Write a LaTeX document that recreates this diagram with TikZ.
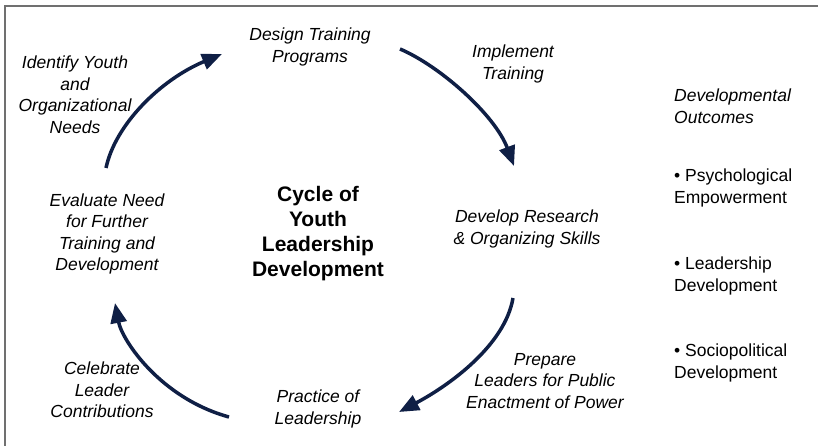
\documentclass[tikz,border=0pt]{standalone}
\usepackage{fontspec}
\setmainfont{Liberation Sans}
\usetikzlibrary{arrows.meta}
\definecolor{navy}{HTML}{0F1F45}
\definecolor{framegray}{HTML}{707070}
\begin{document}
\begin{tikzpicture}[x=1pt,y=-1pt,
  lbl/.style={font=\fontsize{17.5}{21.5}\selectfont\itshape, align=center, inner sep=0pt},
  outc/.style={font=\fontsize{17.5}{21.5}\selectfont, align=left, anchor=west, inner sep=0pt},
  ttl/.style={font=\fontsize{21}{25}\selectfont\bfseries, align=center, inner sep=0pt},
  cyc/.style={draw=navy, line width=3.5pt, -{Triangle[length=20pt,width=16pt]}},
  framel/.style={draw=framegray, line width=2pt}]
\useasboundingbox (0,0) rectangle (818,446);
\draw[framel] (4.5,446) -- (4.5,6.5) -- (818,6.5);

\node[lbl] (identify) at (75,95) {Identify Youth\\and\\Organizational\\Needs};
\node[lbl] (design) at (310,47) {Design Training\\Programs};
\node[lbl] (implement) at (513,64) {Implement\\Training};
\node[lbl] (develop) at (527,229) {Develop Research\\\& Organizing Skills};
\node[lbl] (prepare) at (545,381) {Prepare\\Leaders for Public\\Enactment of Power};
\node[lbl] (practice) at (318,409) {Practice of\\Leadership};
\node[lbl] (celebrate) at (102,390) {Celebrate\\Leader\\Contributions};
\node[lbl] (evaluate) at (107,234) {Evaluate Need\\for Further\\Training and\\Development};
\node[ttl] (title) at (318,234) {Cycle of\\Youth\\Leadership\\Development};

\node[outc, font=\fontsize{17.5}{21.5}\selectfont\itshape] (outcomes) at (674,106) {Developmental\\Outcomes};
\node[outc] (psych) at (674,188) {• Psychological\\Empowerment};
\node[outc] (lead) at (674,276) {• Leadership\\Development};
\node[outc] (socio) at (674,363) {• Sociopolitical\\Development};

\coordinate (a1s) at (106,168);
\coordinate (a1e) at (222,54);
\coordinate (a2s) at (400,49);
\coordinate (a2e) at (514,166);
\coordinate (a3s) at (513,298);
\coordinate (a3e) at (399,412);
\coordinate (a4s) at (229,417);
\coordinate (a4e) at (115,303);

\draw[cyc] (a1s) .. controls (115,125) and (160,80) .. (a1e);
\draw[cyc] (a2s) .. controls (440,66) and (495,115) .. (a2e);
\draw[cyc] (a3s) .. controls (505,345) and (450,385) .. (a3e);
\draw[cyc] (a4s) .. controls (160,398) and (122,340) .. (a4e);
\end{tikzpicture}
\end{document}
